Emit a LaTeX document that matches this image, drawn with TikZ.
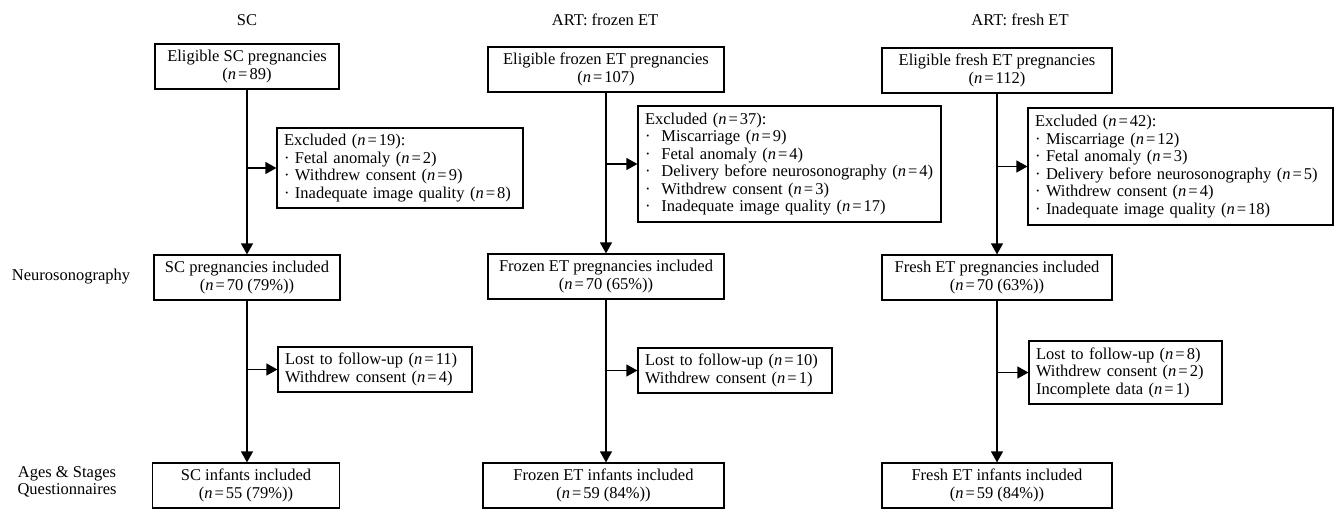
\documentclass[tikz,border=0pt]{standalone}
\usepackage{fontspec}
\setmainfont{Liberation Serif}
\usetikzlibrary{arrows.meta}
\newcommand{\nn}[1]{(\textit{n}\kern2pt=\kern2pt#1)}
\begin{document}
\begin{tikzpicture}[x=1pt,y=-1pt,
 every node/.style={font=\fontsize{16.5}{17.5}\selectfont},
 box/.style={draw,line width=1.2pt,inner sep=0pt,align=center,minimum height=45pt},
 lbox/.style={draw,line width=1.2pt,inner xsep=7pt,inner ysep=0pt,align=left},
 conn/.style={line width=1.2pt,-{Triangle[length=11pt,width=12pt]}},
 lbl/.style={align=center}]
\useasboundingbox (0,0) rectangle (1336,509);

% column titles
\node[lbl] (tSC) at (247,20) {SC};
\node[lbl] (tFr) at (605,20) {ART: frozen ET};
\node[lbl] (tFh) at (1020,20) {ART: fresh ET};

% row labels
\node[lbl] (rNeuro) at (71,277) {Neurosonography};
\node[lbl] (rASQ) at (67,482) {Ages \& Stages\\Questionnaires};

% SC column
\node[box,minimum width=184pt] (eligSC) at (247,66.5) {Eligible SC pregnancies\\\nn{89}};
\node[lbox,text width=232pt,minimum height=80pt] (exclSC) at (400,168) {Excluded \nn{19}:\\· Fetal anomaly \nn{2}\\· Withdrew consent \nn{9}\\· Inadequate image quality \nn{8}};
\node[box,minimum width=186pt] (inclSC) at (247,277.5) {SC pregnancies included\\\nn{70 (79\%)}};
\node[lbox,text width=180pt,minimum height=45pt] (lostSC) at (375,369.5) {Lost to follow-up \nn{11}\\Withdrew consent \nn{4}};
\node[box,minimum width=187pt] (infSC) at (246,485.5) {SC infants included\\\nn{55 (79\%)}};

% frozen column
\node[box,minimum width=236pt] (eligFr) at (606,69.5) {Eligible frozen ET pregnancies\\\nn{107}};
\node[lbox,text width=289pt,minimum height=116pt] (exclFr) at (789.5,164) {Excluded \nn{37}:\\·\ \ Miscarriage \nn{9}\\·\ \ Fetal anomaly \nn{4}\\·\ \ Delivery before neurosonography \nn{4}\\·\ \ Withdrew consent \nn{3}\\·\ \ Inadequate image quality \nn{17}};
\node[box,minimum width=236pt] (inclFr) at (606,276.5) {Frozen ET pregnancies included\\\nn{70 (65\%)}};
\node[lbox,text width=180pt,minimum height=45pt] (lostFr) at (735,370.5) {Lost to follow-up \nn{10}\\Withdrew consent \nn{1}};
\node[box,minimum width=241pt] (infFr) at (603.5,485.5) {Frozen ET infants included\\\nn{59 (84\%)}};

% fresh column
\node[box,minimum width=230pt] (eligFh) at (997,70.5) {Eligible fresh ET pregnancies\\\nn{112}};
\node[lbox,text width=291pt,minimum height=117pt] (exclFh) at (1180.5,166.5) {Excluded \nn{42}:\\·\ Miscarriage \nn{12}\\·\ Fetal anomaly \nn{3}\\·\ Delivery before neurosonography \nn{5}\\·\ Withdrew consent \nn{4}\\·\ Inadequate image quality \nn{18}};
\node[box,minimum width=230pt] (inclFh) at (997,277.5) {Fresh ET pregnancies included\\\nn{70 (63\%)}};
\node[lbox,text width=179pt,minimum height=63pt] (lostFh) at (1125.5,372.5) {Lost to follow-up \nn{8}\\Withdrew consent \nn{2}\\Incomplete data \nn{1}};
\node[box,minimum width=230pt] (infFh) at (997,485.5) {Fresh ET infants included\\\nn{59 (84\%)}};

% connectors
\draw[conn] (eligSC) -- (inclSC);
\draw[conn] (eligSC.south |- exclSC.west) -- (exclSC.west);
\draw[conn] (inclSC) -- (inclSC |- infSC.north);
\draw[conn] (inclSC.south |- lostSC.west) -- (lostSC.west);

\draw[conn] (eligFr) -- (inclFr);
\draw[conn] (eligFr.south |- exclFr.west) -- (exclFr.west);
\draw[conn] (inclFr) -- (inclFr |- infFr.north);
\draw[conn] (inclFr.south |- lostFr.west) -- (lostFr.west);

\draw[conn] (eligFh) -- (inclFh);
\draw[conn] (eligFh.south |- exclFh.west) -- (exclFh.west);
\draw[conn] (inclFh) -- (infFh);
\draw[conn] (inclFh.south |- lostFh.west) -- (lostFh.west);
\end{tikzpicture}
\end{document}
